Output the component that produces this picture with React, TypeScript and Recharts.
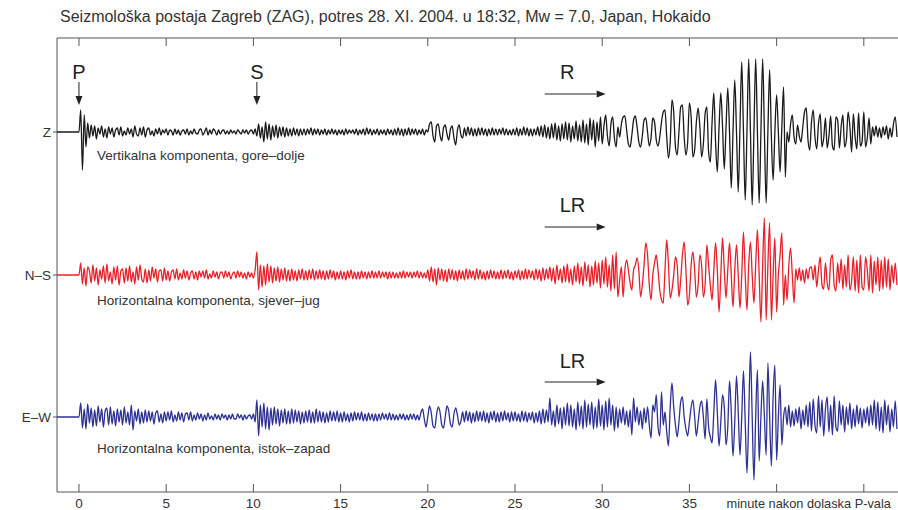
import React from "react";
import { LineChart, Line, XAxis, YAxis, ReferenceLine, ReferenceDot } from "recharts";

// samples every 0.1 min starting at the P arrival (t = 0)
const SAMPLE_STEP = 0.1;
const PRE_EVENT_T = -1.3;

// vertical component Z (amplitude, up positive)
const Z_COUNTS = [
  0, 22, -38, 17, -15, 9, -6, 7, -4, 6,
  -7, 4, -2, 6, -5, 3, -6, 5, -2, 4,
  -5, 2, 4, -3, 5, -4, 1, -3, 4, -2,
  3, -5, 6, -2, -4, 4, -3, 5, -5, 2,
  4, -3, 1, -4, 3, -2, 4, -3, 2, -1,
  3, -3, 2, 1, -3, 3, -2, 2, -3, 1,
  2, -2, 3, -3, 1, -2, 3, -1, -2, 2,
  3, -3, 0, 4, -3, 2, -2, 3, 1, -3,
  2, -2, 1, 2, -2, 1, -2, 2, -1, 1,
  -2, 2, 0, -2, 2, -1, 2, -2, 1, 2,
  -2, 3, -4, 8, -6, 5, -10, 10, -7, 8,
  -8, 6, -5, 7, -6, 5, -4, 5, -5, 4,
  -4, 3, -4, 4, -3, 3, -4, 3, -3, 3,
  -3, 3, -2, 4, -3, 3, -2, 3, -3, 2,
  -2, 3, -3, 2, -2, 3, -2, 2, -3, 2,
  -2, 2, -3, 3, -2, 2, -1, 2, -2, 3,
  -3, 2, -2, 3, -3, 4, -2, 3, -3, 2,
  -2, 3, -3, 2, -2, 2, -3, 3, -2, 2,
  -3, 3, -3, 4, -3, 3, -4, 3, -3, 4,
  -3, 3, -2, 3, -3, 2, -2, 3, -3, 2,
  0, 8, 10, -4, -10, 6, 8, -3, -9, 4,
  7, -2, -8, 3, 6, -6, -13, 2, 7, -3,
  -6, 4, -4, 5, -3, 4, -4, 3, -4, 4,
  -3, 4, -3, 3, -4, 3, -3, 4, -3, 3,
  -3, 3, -2, 4, -3, 3, -3, 2, -3, 3,
  -3, 4, -4, 3, -3, 5, -3, 4, -4, 3,
  -4, 3, -3, 5, -4, 6, -5, 7, -6, 5,
  -7, 8, -6, 9, -8, 6, -9, 8, -7, 10,
  -8, 9, -10, 6, -7, 11, -9, 7, -10, 12,
  -11, 8, -13, 14, -8, 12, -15, 10, -9, 15,
  -12, 6, 17, -4, -14, 8, 15, -6, -15, 5,
  -5, 8, 15, 16, 2, -12, -15, -3, 12, 16,
  5, -10, -15, -4, 12, 14, 0, -14, -6, 14,
  10, -8, -14, -5, 10, 20, 22, -5, -26, -10,
  32, 20, -15, -23, 0, 25, 27, -5, -23, -10,
  29, 15, -25, -18, 10, 24, 5, -25, -12, 18,
  25, -20, -30, 10, 39, -10, -40, 5, 39, 5,
  -37, 5, 44, 0, -56, 0, 52, 0, -60, 5,
  70, 0, -68, 0, 73, 0, -73, 0, 73, 0,
  -71, 0, 73, 0, -71, 0, 62, -5, -48, 0,
  37, 0, -40, 5, 45, -45, 0, -10, 8, 17,
  -5, -12, 7, -4, -10, 5, 20, 24, -8, -18,
  10, 22, -5, -17, 8, 18, -15, -6, 14, -16,
  -4, 16, -14, -18, 15, 12, -16, 5, 17, -15,
  -8, 20, 6, -20, 18, -5, -17, 19, -14, -10,
  20, -15, -6, 14, -12, 5, -4, 6, -5, 4,
  -6, 5, -3, 6, -7, 4, -5, 8, 15, -5,
];

// horizontal component N-S
const NS_COUNTS = [
  0, 12, -9, 7, -11, 8, 4, -8, 10, -6,
  7, -10, 5, -4, 9, -8, 11, -6, 3, -9,
  8, -5, 9, -10, 4, 6, -8, 7, -6, 9,
  -7, 3, -9, 8, -5, 10, -4, -7, 6, -8,
  5, -6, 8, -3, 6, -7, 4, 5, -6, 7,
  -5, 4, -6, 3, 5, -4, 6, -5, 2, -4,
  5, -3, 4, -5, 2, 4, -4, 3, -5, 4,
  -2, 4, -3, 5, -4, 1, -3, 4, -2, 3,
  -4, 2, 3, -3, 4, -2, 3, -4, 1, 3,
  -3, 4, -2, 3, -3, 2, -4, 3, -2, 2,
  -3, 5, 23, -15, 10, -12, 9, -10, 11, -7,
  9, -8, 7, -6, 8, -7, 6, -5, 7, -6,
  5, -6, 6, -5, 4, -6, 5, -4, 6, -5,
  4, -5, 5, -4, 6, -5, 4, -4, 5, -4,
  4, -5, 4, -4, 5, -3, 4, -5, 3, -4,
  4, -4, 3, -5, 4, -3, 5, -4, 3, -4,
  3, -4, 4, -3, 3, -4, 3, -3, 4, -3,
  3, -3, 4, -3, 3, -2, 3, -4, 3, -3,
  3, -3, 2, -3, 3, -3, 4, -3, 3, -2,
  3, -3, 3, -2, 4, -3, 3, -3, 2, -3,
  5, -6, 8, -7, 6, -10, 7, -5, 6, -6,
  5, -7, 6, -4, 5, -5, 4, -6, 5, -4,
  4, -5, 6, -4, 5, -3, 4, -5, 6, -4,
  5, -4, 3, -5, 4, -4, 5, -3, 4, -4,
  3, -4, 5, -4, 4, -3, 5, -4, 3, -5,
  4, -3, 5, -5, 4, -4, 6, -4, 5, -3,
  4, -5, 6, -4, 5, -6, 7, -5, 6, -4,
  8, -6, 7, -9, 10, -5, 6, -8, 9, -7,
  11, -8, 6, -10, 9, -7, 12, -9, 8, -11,
  13, -6, 10, -12, 9, -10, 14, -8, 12, -13,
  15, -9, 18, -12, 10, -16, 20, -14, 23, -22,
  -5, 8, -22, 5, 15, 5, -8, -15, 5, 10,
  17, 5, -22, -10, 10, 32, 20, -10, -25, 0,
  12, 20, 5, -15, -25, -28, 5, 35, 10, -23,
  -15, 0, 18, 10, -22, -5, 20, 33, 5, -30,
  -20, 10, 23, 5, -22, -10, 20, 10, -22, -10,
  30, 10, -10, -25, 5, 32, 5, -37, 0, 37,
  5, -23, 5, 32, 0, -32, 5, 30, 0, -33,
  0, 43, 0, -35, 10, 33, 0, -28, 10, 45,
  0, -47, 10, 57, -45, 10, 52, -45, 0, 37,
  -37, 0, 20, 42, -30, 0, -25, 10, 27, 0,
  -28, 6, -5, 7, -6, 5, -8, 6, -4, 7,
  8, -5, 10, -12, 5, 18, -10, -14, 12, -8,
  -15, 15, 20, -10, -16, 12, -8, 16, -14, 10,
  -12, 20, -15, -6, 18, -16, 15, -18, 20, -12,
  -15, 18, 5, -16, 20, -18, 14, -10, 18, -16,
  15, -14, 18, -12, 16, -15, 10, -8, 12, -10,
];

// horizontal component E-W
const EW_COUNTS = [
  0, 14, -11, 8, -12, 13, -6, 9, -10, 7,
  -9, 11, -5, 8, -10, 6, 9, -8, 10, -7,
  6, -9, 8, -5, 7, -8, 10, -6, 5, -8,
  12, -13, 6, -4, 8, -7, 5, -6, 7, -5,
  6, -4, 5, -7, 4, 6, -5, 3, -6, 5,
  -4, 5, -3, 6, -5, 2, -4, 5, -3, 4,
  -5, 3, 4, -3, 5, -4, 2, -3, 4, -2,
  3, -4, 2, -3, 4, -2, 1, -3, 3, -2,
  2, -3, 3, -1, 2, -3, 2, -2, 3, -2,
  -2, 3, -1, 2, -3, 2, -2, 1, 2, -2,
  3, -5, 17, -19, 12, -10, 14, -12, 10, -13,
  9, -8, 10, -7, 8, -9, 7, -6, 8, -7,
  6, -7, 8, -6, 7, -5, 6, -7, 5, -6,
  6, -5, 7, -6, 5, -6, 8, -5, 6, -5,
  5, -6, 4, -5, 6, -4, 5, -4, 6, -5,
  4, -5, 5, -4, 3, -5, 4, -4, 5, -3,
  4, -3, 5, -4, 3, -4, 4, -3, 3, -4,
  3, -4, 3, -3, 4, -2, 3, -3, 4, -3,
  3, -3, 2, -3, 3, -2, 3, -3, 2, -3,
  3, -2, 3, -3, 2, -3, 4, 8, -2, -10,
  0, 11, 4, -9, -11, 2, 10, 5, -8, -11,
  0, 11, 6, -7, -10, 3, 9, 2, -8, -4,
  5, -5, 6, -4, 5, -6, 4, -5, 6, -4,
  5, -4, 6, -5, 4, -6, 5, -3, 6, -5,
  4, -5, 5, -4, 6, -3, 4, -5, 5, -4,
  5, -4, 3, -5, 6, -4, 5, -5, 4, -3,
  5, -6, 4, -5, 6, -7, 8, -6, 7, -5,
  19, -8, 6, -10, 12, -7, 9, -12, 10, -8,
  14, -9, 12, -10, 8, -13, 15, -9, 11, -12,
  17, -10, 13, -8, 15, -12, 10, -11, 18, -9,
  12, -13, 16, -10, 19, -8, 12, -14, 10, -11,
  8, -6, 10, -8, 6, -10, 7, -18, 19, -5,
  10, -8, 6, -12, 9, -6, 10, -8, -21, 12,
  5, 22, -10, -19, 25, -8, 5, -15, -29, 10,
  34, 10, -8, -20, -5, 15, 20, 0, -12, -19,
  -5, 10, 17, 0, -19, -5, 10, 16, 0, -22,
  18, -10, -20, -26, 5, 37, 5, -29, -5, 22,
  10, -28, -10, 36, 5, -39, -5, 41, 5, -38,
  0, 46, -5, -56, 0, 65, 0, -63, 0, 47,
  -44, 0, 36, 0, -38, 54, 0, -49, 20, 52,
  -43, 0, 32, -28, 0, 10, -8, 12, -10, 6,
  -9, 8, -6, 10, -12, 7, -8, 12, -10, 15,
  -14, 18, -8, -16, 21, -10, 17, -19, 8, 20,
  -15, 12, -18, 21, -10, -14, 16, -8, 12, -15,
  10, -8, 14, -12, 8, -10, 12, -7, 9, -11,
  8, -6, 10, -9, 12, -8, 17, -12, 15, -14,
  10, -16, 17, -8, 12, -15, 8, -10, 16, -12,
];

const X_TICKS = [0, 5, 10, 15, 20, 25, 30, 35, 40, 45];
const X_DOMAIN: [number, number] = [-1.26, 46.96];

const FRAME = "#555";
const TEXT = "#333";
const FONT = "'Liberation Sans', Arial, sans-serif";

const data = [
  { t: PRE_EVENT_T, z: 0, ns: 0, ew: 0 },
  ...Z_COUNTS.map((z, i) => ({
    t: Math.round(i * SAMPLE_STEP * 10) / 10,
    z,
    ns: NS_COUNTS[i],
    ew: EW_COUNTS[i],
  })),
];

const BottomTick = (props: any) => {
  const { x, y, payload } = props;
  const v = payload.value;
  return (
    <g>
      <line x1={x} y1={y} x2={x} y2={y - 8} stroke={FRAME} />
      {v <= 35 && (
        <text x={x} y={y + 16} textAnchor="middle" fontSize={13.5} fill={TEXT} fontFamily={FONT}>
          {v}
        </text>
      )}
      {v === 40 && (
        <text x={x - 50} y={y + 16} fontSize={12.8} fill={TEXT} fontFamily={FONT}>
          minute nakon dolaska P-vala
        </text>
      )}
    </g>
  );
};

const TopTick = (props: any) => {
  const { x, y } = props;
  return <line x1={x} y1={y} x2={x} y2={y + 8} stroke={FRAME} />;
};

const Arrow = (props: any) => {
  const { x1, y1, x2, y2 } = props;
  const dx = x2 - x1;
  const dy = y2 - y1;
  const len = Math.hypot(dx, dy) || 1;
  const ux = dx / len;
  const uy = dy / len;
  const hl = 9;
  const hw = 3.5;
  const bx = x2 - ux * hl;
  const by = y2 - uy * hl;
  return (
    <g>
      <line x1={x1} y1={y1} x2={bx} y2={by} stroke="#222" strokeWidth={1} />
      <polygon
        points={`${x2},${y2} ${bx - uy * hw},${by + ux * hw} ${bx + uy * hw},${by - ux * hw}`}
        fill="#222"
      />
    </g>
  );
};

const bigLabel = (text: string) => (props: any) => (
  <text x={props.cx} y={props.cy} textAnchor="middle" dominantBaseline="central" fontSize={20} fill="#222" fontFamily={FONT}>
    {text}
  </text>
);

const noteLabel = (text: string) => (props: any) => (
  <text x={props.cx} y={props.cy} dominantBaseline="central" fontSize={13.5} fill={TEXT} fontFamily={FONT}>
    {text}
  </text>
);

// trace name left of the frame, with a short tick at the baseline
const traceName = (text: string) => (props: any) => (
  <g>
    <line x1={props.cx - 4} y1={props.cy} x2={props.cx} y2={props.cy} stroke={FRAME} />
    <text x={props.cx - 6} y={props.cy} textAnchor="end" dominantBaseline="central" fontSize={13.5} fill={TEXT} fontFamily={FONT}>
      {text}
    </text>
  </g>
);

export default function App() {
  return (
    <div style={{ position: "absolute", left: 0, top: 0, width: 898, height: 510, background: "#fff", overflow: "hidden" }}>
      <div
        style={{
          position: "absolute",
          left: 60,
          top: 8,
          fontFamily: FONT,
          fontSize: 16,
          color: TEXT,
          whiteSpace: "nowrap",
        }}
      >
        Seizmološka postaja Zagreb (ZAG), potres 28. XI. 2004. u 18:32, Mw = 7.0, Japan, Hokaido
      </div>
      <LineChart width={898} height={510} data={data} margin={{ top: 37, right: 0, bottom: 0, left: 57 }}>
        <XAxis
          dataKey="t"
          type="number"
          domain={X_DOMAIN}
          allowDataOverflow
          ticks={X_TICKS}
          height={18}
          tickSize={0}
          tickMargin={0}
          tickLine={false}
          axisLine={{ stroke: FRAME }}
          tick={<BottomTick />}
        />
        <XAxis
          xAxisId="top"
          orientation="top"
          dataKey="t"
          type="number"
          domain={X_DOMAIN}
          allowDataOverflow
          ticks={X_TICKS}
          height={1}
          tickSize={0}
          tickMargin={0}
          tickLine={false}
          axisLine={{ stroke: FRAME }}
          tick={<TopTick />}
        />
        <YAxis yAxisId="z" type="number" domain={[-360, 94]} allowDataOverflow hide />
        <YAxis yAxisId="ns" type="number" domain={[-217, 237]} allowDataOverflow hide />
        <YAxis yAxisId="ew" type="number" domain={[-75, 379]} allowDataOverflow hide />

        <ReferenceLine yAxisId="z" x={X_DOMAIN[0]} stroke={FRAME} />

        <Line yAxisId="z" dataKey="z" type="monotone" stroke="#1a1a1a" strokeWidth={1.3} dot={false} isAnimationActive={false} />
        <Line yAxisId="ns" dataKey="ns" type="monotone" stroke="#e8202a" strokeWidth={1.3} dot={false} isAnimationActive={false} />
        <Line yAxisId="ew" dataKey="ew" type="monotone" stroke="#2e3192" strokeWidth={1.3} dot={false} isAnimationActive={false} />

        {/* trace names */}
        <ReferenceDot yAxisId="z" x={X_DOMAIN[0]} y={0} shape={traceName("Z")} />
        <ReferenceDot yAxisId="ns" x={X_DOMAIN[0]} y={0} shape={traceName("N–S")} />
        <ReferenceDot yAxisId="ew" x={X_DOMAIN[0]} y={0} shape={traceName("E–W")} />

        {/* phase markers */}
        <ReferenceDot yAxisId="z" x={0} y={60} shape={bigLabel("P")} />
        <ReferenceLine yAxisId="z" segment={[{ x: 0, y: 50 }, { x: 0, y: 27 }]} shape={<Arrow />} />
        <ReferenceDot yAxisId="z" x={10.2} y={60} shape={bigLabel("S")} />
        <ReferenceLine yAxisId="z" segment={[{ x: 10.2, y: 50 }, { x: 10.2, y: 27 }]} shape={<Arrow />} />
        <ReferenceDot yAxisId="z" x={28.0} y={60} shape={bigLabel("R")} />
        <ReferenceLine yAxisId="z" segment={[{ x: 26.7, y: 38 }, { x: 30.2, y: 38 }]} shape={<Arrow />} />
        <ReferenceDot yAxisId="ns" x={28.3} y={70} shape={bigLabel("LR")} />
        <ReferenceLine yAxisId="ns" segment={[{ x: 26.7, y: 48 }, { x: 30.2, y: 48 }]} shape={<Arrow />} />
        <ReferenceDot yAxisId="ew" x={28.3} y={56} shape={bigLabel("LR")} />
        <ReferenceLine yAxisId="ew" segment={[{ x: 26.7, y: 35 }, { x: 30.2, y: 35 }]} shape={<Arrow />} />

        {/* component notes */}
        <ReferenceDot yAxisId="z" x={1.03} y={-23} shape={noteLabel("Vertikalna komponenta, gore–dolje")} />
        <ReferenceDot yAxisId="ns" x={1.03} y={-25} shape={noteLabel("Horizontalna komponenta, sjever–jug")} />
        <ReferenceDot yAxisId="ew" x={1.03} y={-31} shape={noteLabel("Horizontalna komponenta, istok–zapad")} />
      </LineChart>
    </div>
  );
}
